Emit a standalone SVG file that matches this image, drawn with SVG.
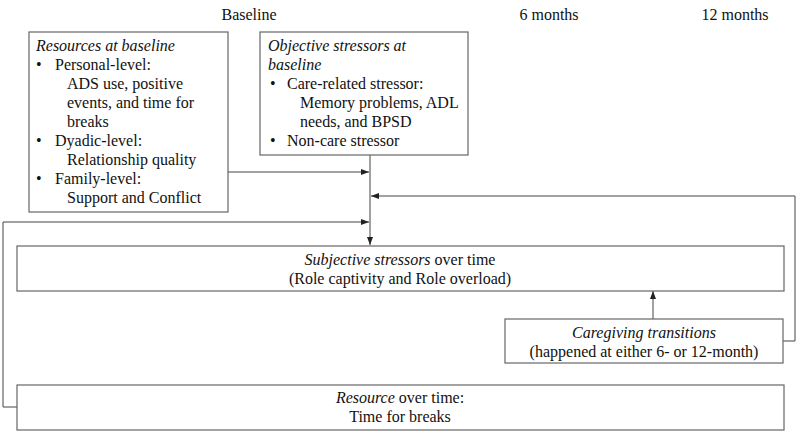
<svg xmlns="http://www.w3.org/2000/svg" width="800" height="435" viewBox="0 0 800 435" font-family="'Liberation Serif', 'DejaVu Serif', serif" font-size="16">
<style>
text{font-family:"Liberation Serif","DejaVu Serif",serif;font-size:16px;fill:#111}
.i{font-style:italic}
.c{text-anchor:middle}
.box{fill:#fff;stroke:#666;stroke-width:1.2}
.ln{fill:none;stroke:#444;stroke-width:1}
</style>
<defs>
<marker id="ah" viewBox="0 0 8 6" refX="8" refY="3" markerWidth="8" markerHeight="6" markerUnits="userSpaceOnUse" orient="auto">
<path d="M0,0 L8,3 L0,6 z" fill="#222"/>
</marker>
</defs>
<rect width="800" height="435" fill="#fff"/>
<g id="timeline">
<text x="249" y="20" class="c">Baseline</text>
<text x="549" y="20" class="c">6 months</text>
<text x="735" y="20" class="c">12 months</text>
</g>
<g id="connectors">
<path class="ln" d="M370,155 V245" marker-end="url(#ah)"/>
<path class="ln" d="M228,172 H369" marker-end="url(#ah)"/>
<path class="ln" d="M783,341 H795 V196 H371" marker-end="url(#ah)"/>
<path class="ln" d="M17,407 H3 V222 H369" marker-end="url(#ah)"/>
<path class="ln" d="M653,319 V291" marker-end="url(#ah)"/>
</g>
<g id="resources-baseline">
<rect class="box" x="29" y="32" width="199" height="180"/>
<text x="36" y="51" class="i">Resources at baseline</text>
<text x="36" y="70">•</text><text x="55" y="70">Personal-level:</text>
<text x="67" y="89">ADS use, positive</text>
<text x="67" y="108">events, and time for</text>
<text x="67" y="127">breaks</text>
<text x="36" y="146">•</text><text x="55" y="146">Dyadic-level:</text>
<text x="67" y="165">Relationship quality</text>
<text x="36" y="184">•</text><text x="55" y="184">Family-level:</text>
<text x="67" y="203">Support and Conflict</text>
</g>
<g id="objective-stressors">
<rect class="box" x="260" y="32" width="208" height="123"/>
<text x="268" y="51" class="i">Objective stressors at</text>
<text x="268" y="70" class="i">baseline</text>
<text x="270" y="89">•</text><text x="287" y="89">Care-related stressor:</text>
<text x="300" y="108">Memory problems, ADL</text>
<text x="300" y="127">needs, and BPSD</text>
<text x="270" y="146">•</text><text x="287" y="146">Non-care stressor</text>
</g>
<g id="subjective-stressors">
<rect class="box" x="17" y="246" width="767" height="45"/>
<text x="400" y="265" class="c"><tspan class="i">Subjective stressors</tspan> over time</text>
<text x="400" y="284" class="c">(Role captivity and Role overload)</text>
</g>
<g id="caregiving-transitions">
<rect class="box" x="505" y="319" width="278" height="44"/>
<text x="644" y="338" class="c i">Caregiving transitions</text>
<text x="644" y="357" class="c">(happened at either 6- or 12-month)</text>
</g>
<g id="resource-over-time">
<rect class="box" x="17" y="385" width="767" height="45"/>
<text x="400" y="403" class="c"><tspan class="i">Resource</tspan> over time:</text>
<text x="400" y="422" class="c">Time for breaks</text>
</g>
</svg>
